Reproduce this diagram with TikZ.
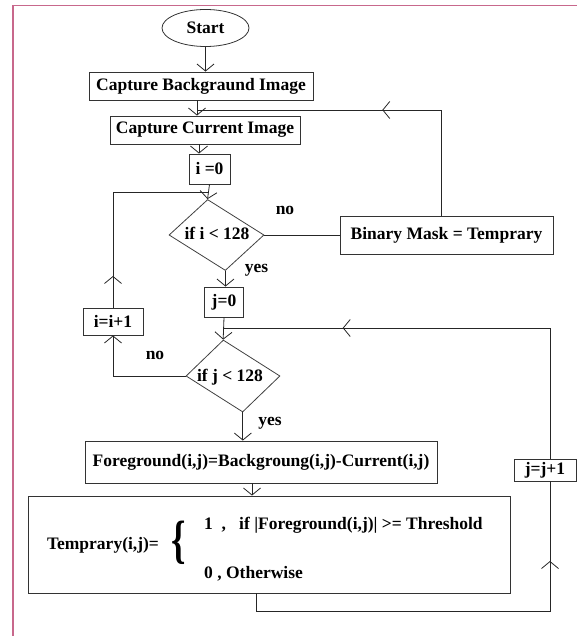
\documentclass[tikz,border=0pt]{standalone}
\usepackage{fontspec}
\setmainfont{Liberation Serif}
\usepackage{graphicx}
\usetikzlibrary{arrows.meta,shapes.geometric,decorations.markings}
\definecolor{framepink}{RGB}{200,104,140}
\newcommand{\flowfont}{\fontsize{17.5}{20}\selectfont\bfseries}
\tikzstyle{stepbox}=[rectangle,draw=black!80,line width=0.9pt,fill=white,inner sep=0pt,font=\flowfont]
\tikzstyle{decision}=[diamond,draw=black!75,line width=0.8pt,inner sep=0pt,minimum width=95pt,minimum height=71pt]
\tikzstyle{terminal}=[ellipse,draw=black!80,line width=0.8pt,inner sep=0pt,minimum width=87pt,minimum height=37pt,font=\flowfont]
\tikzstyle{tag}=[inner sep=0pt,font=\flowfont]
\tikzstyle{edge}=[draw,black!85,line width=0.8pt,->]
\tikzstyle{plainedge}=[draw,black!85,line width=0.8pt]
\tikzset{midarrow/.style={postaction={decorate},decoration={markings,mark=at position #1 with {\arrow{>}}}}}

\begin{document}
\begin{tikzpicture}[x=1pt,y=-1pt,>={Straight Barb[length=7pt,width=17pt]}]

\useasboundingbox (0,0) rectangle (577,636);

% frame
\draw[framepink,line width=1.6pt] (13,636) -- (13,5.5) -- (577,5.5);

% top part
\node[terminal] (start) at (205.5,28) {Start};
\node[stepbox,minimum width=224pt,minimum height=28pt] (cb) at (201,86) {Capture Backgraund Image};
\node[stepbox,minimum width=190pt,minimum height=28pt] (cc) at (205,130) {Capture Current Image};
\node[stepbox,minimum width=41pt,minimum height=30pt] (i0) at (209.5,169) {i =0};

% outer loop
\node[decision,xslant=-0.25] (di) at (216.5,235) {};
\node[tag] (ditext) at (217,233) {if i < 128};
\node[stepbox,minimum width=213pt,minimum height=38pt] (mask) at (446.5,235) {Binary Mask = Temprary};
\node[stepbox,minimum width=39pt,minimum height=30pt] (j0) at (224,302) {j=0};
\node[stepbox,minimum width=60pt,minimum height=27pt] (ii) at (113,321.5) {i=i+1};

% inner loop
\node[decision,xslant=-0.27,minimum width=94pt,minimum height=72pt] (dj) at (233,376) {};
\node[tag] (djtext) at (230,377) {if j < 128};
\node[stepbox,minimum width=352pt,minimum height=42pt] (fg) at (261,462) {Foreground(i,j)=Backgroung(i,j)-Current(i,j)};
\node[stepbox,minimum width=482pt,minimum height=97pt] (tmp) at (269,544.5) {};
\node[stepbox,minimum width=62pt,minimum height=22pt] (jj) at (545,470) {j=j+1};

% threshold rule
\node[tag] (tmpname) at (103,545) {Temprary(i,j)=};
\node[tag] (brace) at (179,543) {\scalebox{2.1}[3.0]{\{}};
\node[tag,anchor=west] (case1) at (204,525) {1~~,~~~if |Foreground(i,j)| >= Threshold};
\node[tag,anchor=west] (case2) at (204,574) {0 , Otherwise};

% branch labels
\node[tag] (no1) at (285,210) {no};
\node[tag] (yes1) at (256.5,270) {yes};
\node[tag] (no2) at (155,355) {no};
\node[tag] (yes2) at (270,423) {yes};

% joins
\coordinate (mjoin) at (197,110);
\coordinate (ijoin) at (208,192);
\coordinate (jjoin) at (224,328);

% straight flow
\path[edge] (start.south) -- (start.south |- cb.north);
\path[edge] ([xshift=-4pt]cb.south) -- ([xshift=-4pt]cb.south |- cc.north);
\path[edge] ([xshift=-6pt]cc.south) -- ([xshift=-6pt]cc.south |- i0.north);
\path[edge] (i0.south) -- (di.north);
\path[plainedge] (di.east) -- (mask.west);
\path[edge] (di.south) -- (di.south |- j0.north);
\path[edge] (j0.south) -- (dj.north);
\path[edge] (dj.west) -| (ii.south);
\path[edge] (dj.south) -- (dj.south |- fg.north);
\path[edge] ([xshift=-9pt]fg.south) -- ([xshift=-9pt]fg.south |- tmp.north);

% loops back
\path[plainedge,midarrow=0.47] ([xshift=-5.5pt]mask.north) |- (mjoin);
\path[plainedge,midarrow=0.15] (ii.north) |- (ijoin);
\path[plainedge,midarrow=0.74] ([xshift=5pt]jj.north) |- (jjoin);
\path[plainedge,midarrow=0.82] ([xshift=-13pt]tmp.south) -- ++(0,18) -| ([xshift=5pt]jj.south);

\end{tikzpicture}
\end{document}
